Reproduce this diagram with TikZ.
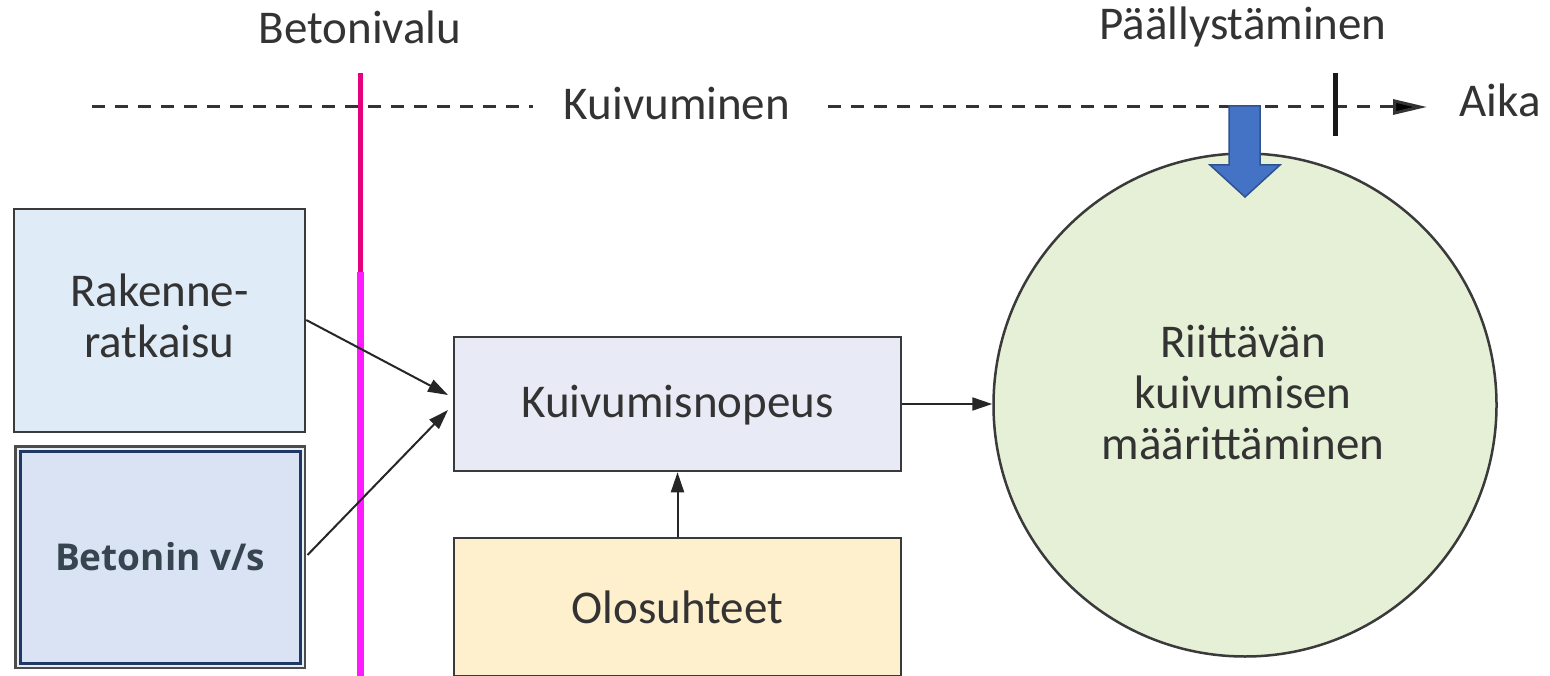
\documentclass[tikz,border=0pt]{standalone}
\usepackage{fontspec}
\setmainfont{Carlito}
\newfontfamily\boldsans{Open Sans}
\usetikzlibrary{arrows.meta}
\definecolor{txt}{HTML}{333333}
\definecolor{frame}{HTML}{3A3A3A}
\definecolor{rakfill}{HTML}{DFEBF7}
\definecolor{betfill}{HTML}{D9E3F3}
\definecolor{kuifill}{HTML}{E8EAF5}
\definecolor{olofill}{HTML}{FEEFCD}
\definecolor{cirfill}{HTML}{E6F0D6}
\definecolor{navy}{HTML}{1F3864}
\definecolor{pinkA}{HTML}{E6007E}
\definecolor{pinkB}{HTML}{FF1AFF}
\definecolor{arrblue}{HTML}{4472C4}
\definecolor{arrblueD}{HTML}{2F528F}
\definecolor{bettxt}{HTML}{36454F}
\tikzset{
  lbl/.style={text=txt, font=\fontsize{47}{51}\selectfont, align=center, inner sep=0},
  boxn/.style={draw=frame, line width=2.5, text=txt, font=\fontsize{47}{51}\selectfont, align=center, inner sep=0},
  conn/.style={draw=black!85, line width=2, -{Triangle[length=20, width=13]}},
}
\begin{document}
\begin{tikzpicture}[x=1pt,y=-1pt]
\useasboundingbox[fill=white] (0,0) rectangle (1550,676);

% time line
\coordinate (tl0) at (92,107);
\coordinate (tl1) at (1427,107);
\draw[black!80, line width=3, dash pattern=on 13 off 10, -{Triangle[length=34, width=15, fill=black]}] (tl0) -- (tl1);
\node[lbl, fill=white, inner xsep=31, inner ysep=6] (kuiv) at (677,104) {Kuivuminen};
\node[lbl] (aika) at (1500,100) {Aika};
\node[lbl] (betv) at (360,27) {Betonivalu};
\node[lbl] (paal) at (1243,27) {Päällystäminen};

% tick
\coordinate (tk0) at (1335,73);
\coordinate (tk1) at (1335,136);
\draw[black!90, line width=5] (tk0) -- (tk1);

% boxes
\node[boxn, fill=rakfill, minimum width=291, minimum height=223] (rak) at (159.5,320.5) {};
\node[lbl] (raktxt) at (159.5,316) {Rakenne-\\ratkaisu};
\node[draw=navy, line width=3, fill=betfill, minimum width=280, minimum height=212, inner sep=0,
      preaction={draw=black!70, line width=12},
      preaction={draw=betfill!60!white, line width=7},
      text=bettxt, font=\boldsans\bfseries\fontsize{37}{40}\selectfont] (bet) at (160,557) {Betonin v/s};
\node[boxn, fill=kuifill, minimum width=447, minimum height=134] (kn) at (677.5,404) {};
\node[lbl] (kntxt) at (677.5,405) {Kuivumisnopeus};
\node[boxn, fill=olofill, minimum width=447, minimum height=138] (olo) at (677.5,607) {Olosuhteet};
\node[boxn, circle, fill=cirfill, minimum size=503] (cir) at (1245,405) {};
\node[lbl] (cirtxt) at (1243,393) {Riittävän\\kuivumisen\\määrittäminen};

% magenta line
\coordinate (m0) at (360,73);
\coordinate (m1) at (360,272);
\coordinate (m2) at (360,676);
\draw[pinkA, line width=5] (m0) -- (m1);
\draw[pinkB, line width=7] (m1) -- (m2);

% blue arrow
\draw[fill=arrblue, draw=arrblueD, line width=1.5, line join=miter]
  (1229,106) -- (1260,106) -- (1260,165) -- (1280,165) -- (1245,197) -- (1210,165) -- (1229,165) -- cycle;

% connectors
\draw[conn] (rak.east |- 0,320) -- (448,395);
\draw[conn] (bet.east |- 0,555) ++(6,0) -- (448,410);
\draw[conn] (kn.east) -- (kn.east -| cir.west);
\draw[conn] (olo.north) -- (kn.south);
\end{tikzpicture}
\end{document}
